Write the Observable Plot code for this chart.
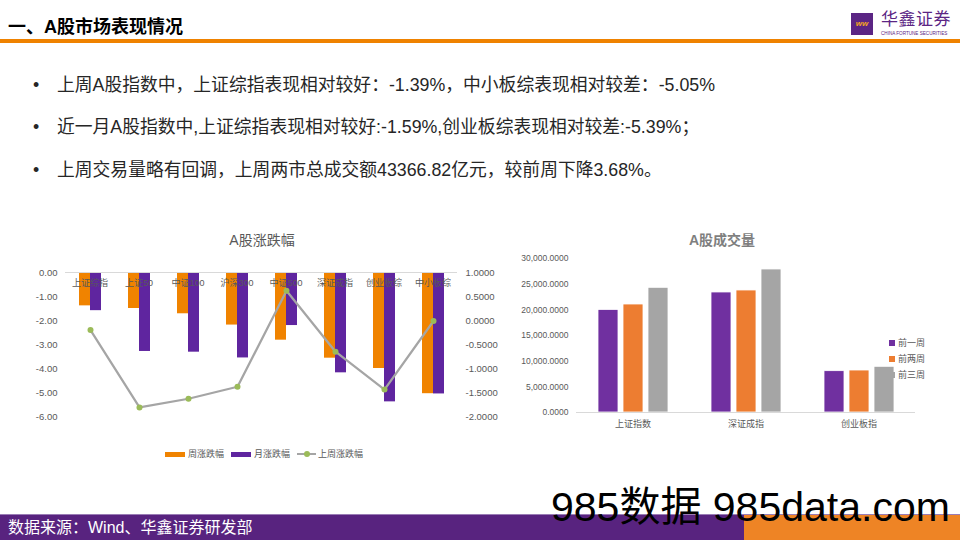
<!DOCTYPE html>
<html><head><meta charset="utf-8">
<script src="https://cdn.jsdelivr.net/npm/d3@7"></script>
<script src="https://cdn.jsdelivr.net/npm/@observablehq/plot@0.6"></script>
<style>
body{margin:0;width:960px;height:540px;position:relative;overflow:hidden;background:#fff;font-family:"Liberation Sans","Noto Sans CJK SC",sans-serif;}
.abs{position:absolute;white-space:nowrap;}
.bul{left:33px;font-size:17.8px;color:#262626;line-height:24px;}
.bul span{display:inline-block;width:24px;}
.ctitle{font-size:14px;color:#595959;transform:translateX(-50%);}
.leg{font-size:9px;color:#595959;line-height:12px;}
</style></head><body>
<div class="abs" style="left:8px;top:15px;font-size:18px;font-weight:bold;color:#000;line-height:24px;">一、A股市场表现情况</div>
<div class="abs" style="left:0;top:39px;width:960px;height:4px;background:#ef8200;"></div>
<div class="abs" style="left:851px;top:13px;width:22px;height:22px;background:#5b2584;color:#f5a623;font-size:8px;font-weight:bold;font-style:italic;line-height:22px;text-align:center;">ww</div>
<div class="abs" style="left:881px;top:10px;font-size:17px;color:#5b2584;line-height:20px;letter-spacing:0.5px;">华鑫证券</div>
<div class="abs" style="left:881px;top:31px;font-size:4.6px;color:#5b2584;line-height:5px;">CHINA FORTUNE SECURITIES</div>

<div class="abs bul" style="top:73px;"><span>•</span>上周A股指数中，上证综指表现相对较好：-1.39%，中小板综表现相对较差：-5.05%</div>
<div class="abs bul" style="top:115px;"><span>•</span>近一月A股指数中,上证综指表现相对较好:-1.59%,创业板综表现相对较差:-5.39%；</div>
<div class="abs bul" style="top:158px;"><span>•</span>上周交易量略有回调，上周两市总成交额43366.82亿元，较前周下降3.68%。</div>

<div class="abs ctitle" style="left:262px;top:229px;">A股涨跌幅</div>
<div class="abs ctitle" style="left:722px;top:229px;font-weight:bold;color:#7f7f7f;">A股成交量</div>
<div id="c1" class="abs" style="left:0;top:252px;"></div>
<div id="c2" class="abs" style="left:0;top:252px;"></div>
<div id="c3" class="abs" style="left:500px;top:248px;"></div>
<div id="leg1"></div>
<div id="leg2"></div>

<div class="abs" style="left:0;top:514px;width:960px;height:26px;background:#58237f;border-top:1px solid #9a7cb5;box-sizing:border-box;"></div>
<div class="abs" style="left:744px;top:515px;width:216px;height:25px;background:#ee8425;"></div>
<div class="abs" style="left:8px;top:518px;font-size:16px;color:#fff;line-height:20px;">数据来源：Wind、华鑫证券研发部</div>
<div class="abs" style="left:551px;top:487px;font-size:41px;color:#000;line-height:41px;">985数据 985data.com</div>

<script>
const idxCats = ["上证综指","上证50","中证100","沪深300","中证500","深证成指","创业板综","中小板综"];
const weekChg = [-1.39,-1.50,-1.72,-2.19,-2.82,-3.57,-4.00,-5.05];
const monthChg = [-1.59,-3.29,-3.32,-3.56,-2.21,-4.18,-5.39,-5.06];
const prevWeekChg = [-0.20,-1.81,-1.63,-1.38,0.62,-0.65,-1.44,-0.01];
const chgSeries = ["周涨跌幅","月涨跌幅","上周涨跌幅"];
const chgColors = ["#f08300","#5f259f","#a5a5a5"];
const leftTicks = [0,-1,-2,-3,-4,-5,-6];
const rightTicks = [1,0.5,0,-0.5,-1,-1.5,-2];

const volCats = ["上证指数","深证成指","创业板指"];
const volSeries = ["前一周","前两周","前三周"];
const volColors = ["#7030a0","#ed7d31","#a5a5a5"];
const vol1 = [19985,23382,8052];
const vol2 = [21040,23770,8180];
const vol3 = [24290,27860,8900];
const volTicks = [0,5000,10000,15000,20000,25000,30000];

const FF = '"Liberation Sans","Noto Sans CJK SC",sans-serif';
const baseStyle = {fontFamily:FF,fontSize:"9.5px",color:"#595959",background:"transparent",overflow:"visible"};

const barRows = idxCats.flatMap((c,i)=>[{cat:c,s:chgSeries[0],v:weekChg[i]},{cat:c,s:chgSeries[1],v:monthChg[i]}]);
const lineRows = idxCats.map((c,i)=>({cat:c,v:prevWeekChg[i]}));
const labelRows = idxCats.map(c=>({cat:c,y:0}));

const p1 = Plot.plot({
  width:500,height:174,marginLeft:65,marginRight:43,marginTop:20,marginBottom:10,
  style:baseStyle,
  fx:{domain:idxCats,padding:0,axis:null},
  x:{domain:chgSeries.slice(0,2),paddingInner:0,paddingOuter:1.13,axis:null},
  y:{domain:[-6,0],axis:null},
  color:{domain:chgSeries.slice(0,2),range:chgColors.slice(0,2)},
  marks:[
    Plot.barY(barRows,{fx:"cat",x:"s",y:"v",fill:"s"}),
    Plot.ruleY([0],{stroke:"#d9d9d9",strokeWidth:1}),
    Plot.axisY({ticks:leftTicks,tickSize:0,tickPadding:8,tickFormat:d=>d.toFixed(2),fontSize:9.5,label:null}),
    Plot.text(labelRows,{fx:"cat",y:"y",text:"cat",dy:11,fill:"#595959",fontSize:9})
  ]
});
document.getElementById("c1").appendChild(p1);

const p2 = Plot.plot({
  width:500,height:174,marginLeft:65,marginRight:43,marginTop:20,marginBottom:10,
  style:baseStyle,
  x:{type:"point",domain:idxCats,padding:0.5,axis:null},
  y:{domain:[-2,1],axis:null},
  marks:[
    Plot.axisY({anchor:"right",ticks:rightTicks,tickSize:0,tickPadding:8,tickFormat:d=>d.toFixed(4),fontSize:9.5,label:null}),
    Plot.line(lineRows,{x:"cat",y:"v",stroke:chgColors[2],strokeWidth:2.25}),
    Plot.dot(lineRows,{x:"cat",y:"v",fill:"#9bbb59",r:3})
  ]
});
document.getElementById("c2").appendChild(p2);

const volRows = volCats.flatMap((c,i)=>[
  {cat:c,s:volSeries[0],v:vol1[i]},{cat:c,s:volSeries[1],v:vol2[i]},{cat:c,s:volSeries[2],v:vol3[i]}]);
const fmtVol = d3.format(",.4f");
const p3 = Plot.plot({
  width:460,height:186,marginLeft:75,marginRight:45,marginTop:10,marginBottom:22,
  style:{...baseStyle,fontSize:"9px"},
  fx:{domain:volCats,padding:0,axis:"bottom",tickSize:0,tickPadding:8,label:null},
  x:{domain:volSeries,paddingInner:0.21,paddingOuter:0.844,axis:null},
  y:{domain:[0,30000],axis:null},
  color:{domain:volSeries,range:volColors},
  marks:[
    Plot.barY(volRows,{fx:"cat",x:"s",y:"v",fill:"s",stroke:"#fff",strokeWidth:0.8}),
    Plot.ruleY([0],{stroke:"#d9d9d9",strokeWidth:1}),
    Plot.axisY({ticks:volTicks,tickSize:0,tickPadding:8,tickFormat:fmtVol,fontSize:8.5,label:null})
  ]
});
document.getElementById("c3").appendChild(p3);

// legend 1
const leg1 = document.getElementById("leg1");
const l1x = [165,231,297];
chgSeries.forEach((s,i)=>{
  const sw = document.createElement("div");
  sw.className="abs";
  if(i<2){
    sw.style.cssText=`left:${l1x[i]}px;top:451.5px;width:20px;height:5px;background:${chgColors[i]};`;
    leg1.appendChild(sw);
  } else {
    sw.style.cssText=`left:${l1x[i]}px;top:453px;width:19px;height:2px;background:${chgColors[i]};`;
    const dt=document.createElement("div");dt.className="abs";
    dt.style.cssText=`left:${l1x[i]+7}px;top:451px;width:6px;height:6px;border-radius:3px;background:#9bbb59;`;
    leg1.appendChild(sw);leg1.appendChild(dt);
  }
  const t=document.createElement("div");t.className="abs leg";
  t.style.cssText=`left:${l1x[i]+(i<2?23:21)}px;top:448px;`;t.textContent=s;leg1.appendChild(t);
});
// legend 2
const leg2 = document.getElementById("leg2");
volSeries.forEach((s,i)=>{
  const y=[343,359,375][i];
  const sw=document.createElement("div");sw.className="abs";
  sw.style.cssText=`left:889px;top:${y-3}px;width:6px;height:6px;background:${volColors[i]};`;
  leg2.appendChild(sw);
  const t=document.createElement("div");t.className="abs leg";
  t.style.cssText=`left:898px;top:${y-6}px;`;t.textContent=s;leg2.appendChild(t);
});
</script>
</body></html>
